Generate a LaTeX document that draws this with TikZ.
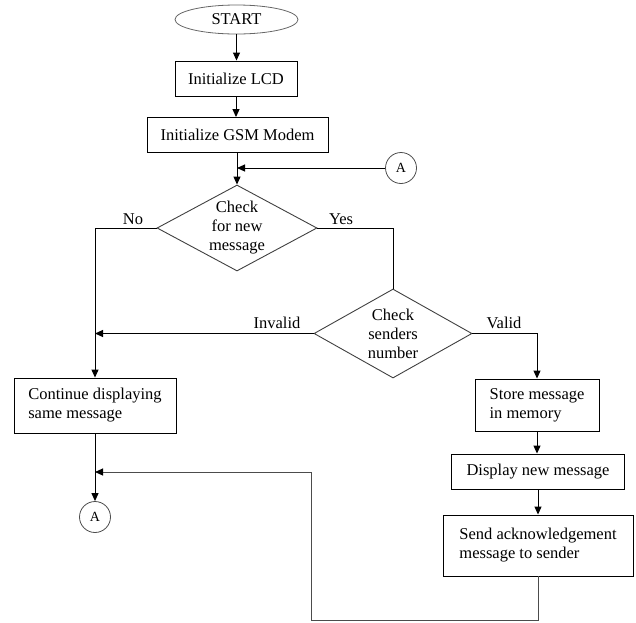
\documentclass[tikz,border=0pt]{standalone}
\usepackage{fontspec}
\setmainfont{Liberation Serif}
\usetikzlibrary{shapes.geometric,arrows.meta}
\begin{document}
\begin{tikzpicture}[x=1pt,y=-1pt,
  txt/.style={font=\fontsize{16.5}{19}\selectfont, text=black},
  box/.style={txt, draw=black, line width=0.9pt, rectangle, inner sep=0pt, align=center},
  lbox/.style={box, align=left},
  dia/.style={draw=black!75, line width=0.9pt, diamond, inner sep=0pt},
  term/.style={txt, draw=black!60, line width=0.8pt, ellipse, inner sep=0pt, minimum width=123pt, minimum height=29pt},
  conn/.style={draw=black!70, line width=0.8pt, circle, inner sep=0pt, minimum size=31pt, font=\fontsize{14}{16}\selectfont},
  line/.style={draw=black, line width=1pt},
  arr/.style={line, -{Triangle[length=8pt,width=7pt]}},
  loopline/.style={draw=black!70, line width=1pt, -{Triangle[length=8pt,width=7pt,fill=black,color=black]}},
  lab/.style={txt, inner sep=0pt, align=center},
]
\useasboundingbox (0,0) rectangle (636,622);
% nodes
\node[term] (start) at (236.5,19.5) {START};
\node[box, minimum width=122pt, minimum height=35pt] (lcd) at (236,78.5) {Initialize LCD};
\node[box, minimum width=181pt, minimum height=35pt] (gsm) at (237.5,135) {Initialize GSM Modem};
\node[conn] (a1) at (401,168) {A};
\node[dia, minimum width=160pt, minimum height=86pt] (d1) at (237,228) {};
\node[lab] (d1t) at (237,228) {Check\\for new\\message};
\node[dia, minimum width=158pt, minimum height=89pt] (d2) at (393,333.5) {};
\node[lab] (d2t) at (393,333.5) {Check\\senders\\number};
\node[lbox, minimum width=162pt, minimum height=55pt] (cont) at (95,405.5) {Continue displaying\\same message};
\node[lbox, minimum width=124pt, minimum height=52pt] (store) at (537,405) {Store message\\in memory};
\node[box, minimum width=173pt, minimum height=35pt] (disp) at (538,471.5) {Display new message};
\node[lbox, minimum width=190pt, minimum height=61pt] (send) at (538,545.5) {Send acknowledgement\\message to sender};
\node[conn] (a2) at (95,517) {A};
% labels
\node[lab] (no) at (133,219) {No};
\node[lab] (yes) at (341,219) {Yes};
\node[lab] (inv) at (277,323) {Invalid};
\node[lab] (val) at (504,323) {Valid};
% helper coordinates
\coordinate (jn) at (237,168);
\coordinate (jl) at (95,472);
\coordinate (lr) at (538,620);
\coordinate (ll) at (311,620);
\coordinate (lt) at (311,472);
% connectors
\draw[arr] (start.south) -- (start.south |- lcd.north);
\draw[arr] (lcd.south) -- (lcd.south |- gsm.north);
\draw[arr] (d1.north |- gsm.south) -- (d1.north);
\draw[arr] (a1.west) -- (jn);
\draw[arr] (d1.west) -| (cont.north);
\draw[line] (d1.east) -| (d2.north);
\draw[arr] (d2.west) -- (d2.west -| cont.north);
\draw[arr] (d2.east) -| (store.north);
\draw[arr] (store.south) -- (store.south |- disp.north);
\draw[arr] (disp.south) -- (disp.south |- send.north);
\draw[arr] (cont.south) -- (a2.north);
\draw[loopline] (send.south) -- (lr) -- (ll) -- (lt) -- (jl);
\end{tikzpicture}
\end{document}
